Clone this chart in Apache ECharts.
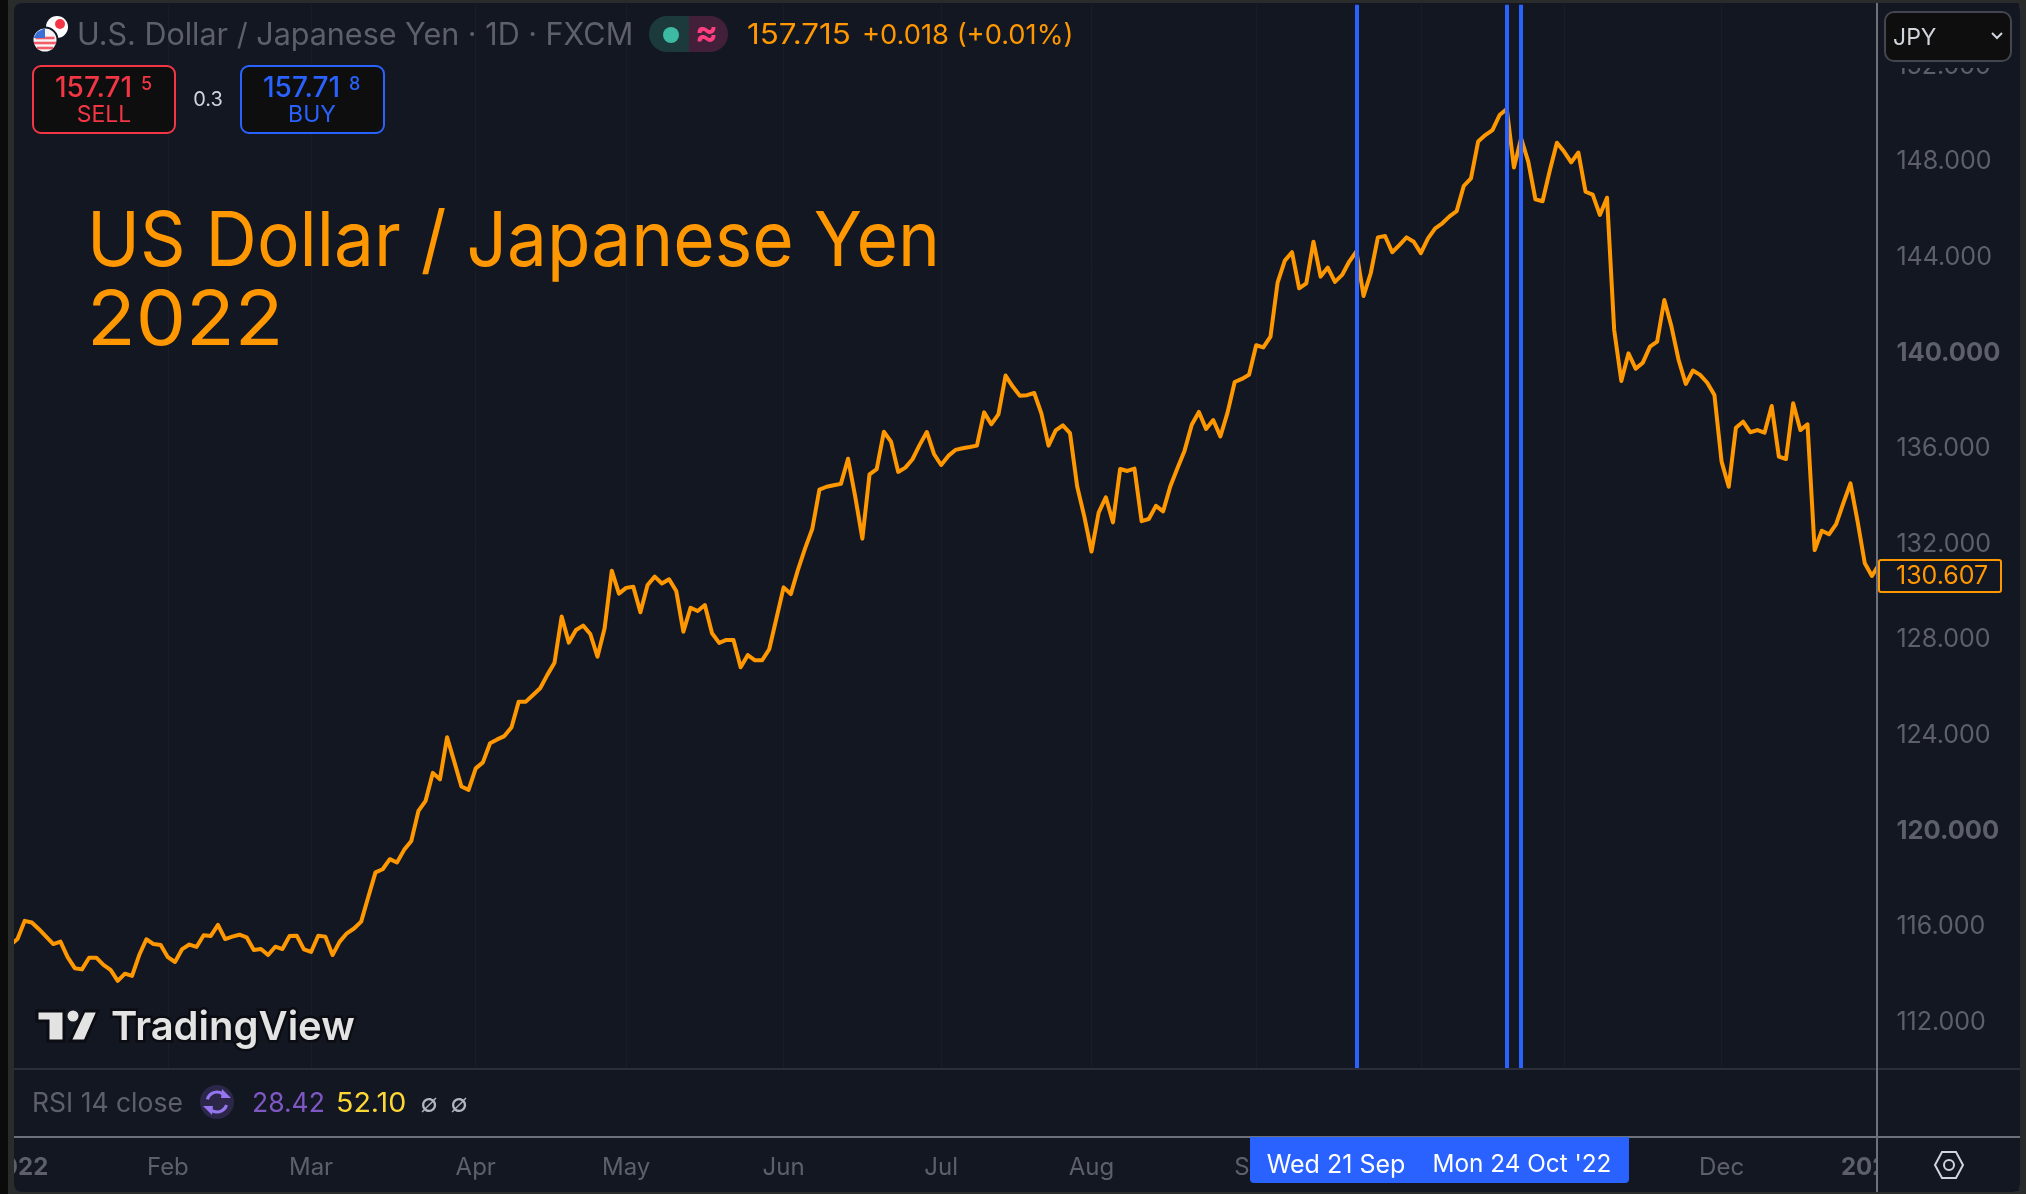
<!DOCTYPE html>
<html>
<head>
<meta charset="utf-8">
<style>html,body{margin:0;padding:0;background:#2a2b2b}#c{width:2026px;height:1194px}</style>
<script src="https://cdn.jsdelivr.net/npm/echarts@6/dist/echarts.min.js"></script>
</head>
<body>
<div id="c"></div>
<script>
// Daily closes, weekday bars; first entry is the bar before 3 Jan 2022, last is the bar after 30 Dec 2022.
const closes = [
115.17,115.42,116.18,116.11,115.83,115.52,115.21,115.31,114.66,114.20,114.15,114.64,114.64,114.34,114.13,113.67,113.97,113.88,114.75,115.41,
115.21,115.17,114.66,114.46,115.00,115.19,115.09,115.58,115.55,116.01,115.42,115.52,115.60,115.49,114.96,115.00,114.75,115.10,115.00,115.55,
115.56,114.99,114.88,115.56,115.52,114.75,115.31,115.66,115.86,116.15,117.19,118.21,118.34,118.76,118.62,119.15,119.52,120.78,121.20,122.37,
122.10,123.86,122.84,121.80,121.66,122.56,122.81,123.61,123.77,123.91,124.28,125.35,125.35,125.63,125.91,126.47,126.98,128.91,127.82,128.35,
128.53,128.18,127.23,128.42,130.83,129.87,130.11,130.16,129.09,130.23,130.58,130.29,130.47,129.98,128.28,129.28,129.14,129.39,128.21,127.81,
127.93,127.93,126.79,127.30,127.08,127.08,127.55,128.84,130.13,129.85,130.86,131.76,132.57,134.22,134.34,134.40,134.46,135.51,133.93,132.17,
134.86,135.08,136.64,136.23,134.96,135.14,135.49,136.09,136.63,135.71,135.25,135.63,135.88,135.95,136.00,136.06,137.45,136.95,137.37,138.99,
138.53,138.15,138.17,138.26,137.41,136.06,136.70,136.91,136.58,134.35,133.09,131.63,133.26,133.90,132.85,135.08,135.00,135.10,132.90,132.99,
133.54,133.31,134.35,135.11,135.85,136.93,137.47,136.76,137.13,136.44,137.44,138.72,138.85,139.02,140.26,140.17,140.62,142.89,143.80,144.15,
142.64,142.85,144.59,143.13,143.51,142.91,143.20,143.76,144.18,142.32,143.27,144.77,144.83,144.15,144.45,144.77,144.59,144.11,144.73,145.15,
145.36,145.65,145.87,146.93,147.24,148.78,149.05,149.26,149.89,150.14,147.69,148.91,147.94,146.36,146.28,147.56,148.73,148.36,147.91,148.32,
146.68,146.56,145.71,146.43,140.90,138.76,139.92,139.28,139.53,140.20,140.41,142.15,141.04,139.64,138.64,139.20,139.02,138.69,138.18,135.39,
134.34,136.81,137.06,136.62,136.71,136.60,137.72,135.60,135.50,137.83,136.71,136.95,131.69,132.50,132.35,132.78,133.65,134.48,132.88,131.14,
130.607,131.1
];
const firstBar = -1;
const lastBar = 260;
const lastClose = 130.607;
const priceTicks = [112,116,120,124,128,132,136,140,144,148,152];
const boldPrices = [120,140];
const gridBars = [21,41,64,85,107,129,150,173,196,216,238];
const timeBars = [0,21,41,64,85,107,129,150,173,238,259];
const timeLabels = ['2022','Feb','Mar','Apr','May','Jun','Jul','Aug','Sep','Dec','2023'];
const boldTimes = ['2022','2023'];
const eventBars = [187,208,210];

const ORANGE='#ff9800', BLUE='#2962ff', RED='#f23645', DIM='#5d606b', BG='#131722';
const FONT='Inter';
const seriesData = closes.map((v,i)=>[i+firstBar,v]);

function txt(id,x,y,text,size,color,extra,sx){
  return {id,type:'text',x,y,z:120,silent:true,scaleX:sx||1,style:Object.assign({
    text,fill:color,font:`${size}px ${FONT}`,textVerticalAlign:'middle',textAlign:'left'
  },extra||{})};
}
function rect(id,x,y,w,h,fill,extra,z){
  return {id,type:'rect',z:z===undefined?110:z,silent:true,shape:{x,y,width:w,height:h,r:(extra&&extra.r)||0},
    style:{fill,stroke:extra&&extra.stroke,lineWidth:extra&&extra.lw}};
}
function hline(id,x1,x2,y,color,w){return {id,type:'line',z:112,silent:true,shape:{x1,y1:y,x2,y2:y},style:{stroke:color,lineWidth:w}};}
function hline2(id,x1,x2,y,color,w){return {id,type:'line',z:116,silent:true,shape:{x1,y1:y,x2,y2:y},style:{stroke:color,lineWidth:w}};}
function vline(id,x,y1,y2,color,w){return {id,type:'line',z:113,silent:true,shape:{x1:x,y1,x2:x,y2},style:{stroke:color,lineWidth:w}};}
function circ(id,cx,cy,r,fill,extra){return {id,type:'circle',z:115,silent:true,shape:{cx,cy,r},style:Object.assign({fill},extra||{})};}
function poly(id,points,fill,extra){return {id,type:'polygon',z:116,silent:true,shape:{points},style:Object.assign({fill},extra||{})};}

const graphics = [
  // frame
  rect('panel',14,3,2006,1189,BG,{r:8},-10),
  rect('frameL',0,0,8,1194,'#0b0b0b',null,111),
  rect('frameL2',8,0,6,1194,'#2a2b2b',null,111),
  rect('rightCover',1878,3,3,1135,BG,null,108),
  rect('topRightCover',1878,3,141,65,BG,null,110),
  rect('timeCoverR',1878,1138,141,53,BG,null,111),
  hline('sep1',14,2020,1069,'#2a2e39',2),
  hline('sep2',14,2020,1137,'#6f717a',2),
  vline('priceEdge',1877,3,1192,'#6f717a',2),
  // currency flags
  circ('jpW',57,27,11,'#ffffff'),
  circ('jpR',60,24,5,RED),
  circ('usW',45,40,12.5,'#f5f5f5',{stroke:BG,lineWidth:2}),
  hline2('usS1',35.5,54.5,38,'#f45b69',2.6),
  hline2('usS2',34,56,43,'#f45b69',2.6),
  hline2('usS3',37,53,48,'#f45b69',2.6),
  poly('usB',[[37,32],[45,28],[45,38],[33.5,38]],'#3b6fd8'),
  // header
  txt('head',77,36,'U.S. Dollar / Japanese Yen · 1D · FXCM',30.5,DIM),
  rect('pillL',649,16,40,36,'#1c3a3c',{r:[18,0,0,18]},114),
  rect('pillR',689,16,39,36,'#43203a',{r:[0,18,18,0]},114),
  circ('pillDot',671,35,8,'#3dbaa2'),
  txt('pillSym',695,34,'≈',34,'#ff3e7f',{font:`bold 34px ${FONT}`}),
  txt('quote',747,36,'157.715',28,ORANGE,null,1.12),
  txt('quote2',862,36,'+0.018 (+0.01%)',27.3,ORANGE),
  // sell and buy
  rect('sell',33,66,142,67,'#0e0e0e',{r:8,stroke:RED,lw:2},114),
  txt('sellP',55,89,'157.71',28,RED,{font:`500 28px ${FONT}`}),
  txt('sellS',141,85,'5',18,RED,{font:`500 18px ${FONT}`}),
  txt('sellT',104,115,'SELL',23,RED,{textAlign:'center'}),
  txt('spread',208,100,'0.3',20,'#d1d4dc',{textAlign:'center'}),
  rect('buy',241,66,143,67,'#0e0e0e',{r:8,stroke:BLUE,lw:2},114),
  txt('buyP',263,89,'157.71',28,BLUE,{font:`500 28px ${FONT}`}),
  txt('buyS',349,85,'8',18,BLUE,{font:`500 18px ${FONT}`}),
  txt('buyT',312,115,'BUY',23,BLUE,{textAlign:'center'}),
  // title
  txt('title1',87,243,'US Dollar / Japanese Yen',76,ORANGE,null,0.936),
  txt('title2',87,322,'2022',76,ORANGE,null,1.05),
  // currency selector
  rect('jpy',1885,12,126,49,'#0e0e0e',{r:9,stroke:'#434651',lw:2},114),
  txt('jpyT',1893,38,'JPY',23,'#d1d4dc'),
  {id:'jpyV',type:'polyline',z:116,silent:true,shape:{points:[[1992,33],[1997,38],[2002,33]]},style:{stroke:'#d1d4dc',lineWidth:2,fill:null}},
  // RSI row
  txt('rsiName',32,1104,'RSI 14 close',26.5,DIM),
  circ('rsiC',217,1102,17,'#2c2748'),
  {id:'rsiA1',type:'arc',z:116,silent:true,shape:{cx:217,cy:1102,r:10,startAngle:3.4,endAngle:5.8},style:{stroke:'#9575f0',lineWidth:3,fill:null}},
  {id:'rsiA2',type:'arc',z:116,silent:true,shape:{cx:217,cy:1102,r:10,startAngle:0.3,endAngle:2.7},style:{stroke:'#9575f0',lineWidth:3,fill:null}},
  poly('rsiH1',[[222,1089],[231,1098],[221,1098]],'#9575f0'),
  poly('rsiH2',[[212,1115],[203,1106],[213,1106]],'#9575f0'),
  txt('rsiA',252,1104,'28.42',26.5,'#7e57c2'),
  txt('rsiB',336,1104,'52.10',26.5,'#fdd835',null,1.08),
  txt('rsiN1',429,1104,'∅',25,'#b2b5be',{textAlign:'center'}),
  txt('rsiN2',459,1104,'∅',25,'#b2b5be',{textAlign:'center'}),
  // date range highlight
  rect('range',1250,1137,379,46,BLUE,{r:[0,0,4,4]},114),
  txt('rangeA',1336,1165,'Wed 21 Sep',25,'#ffffff',{textAlign:'center'}),
  txt('rangeB',1522,1165,"Mon 24 Oct '22",24.3,'#ffffff',{textAlign:'center'}),
  // settings icon
  poly('hex',[[1935,1165],[1942,1152],[1956,1152],[1963,1165],[1956,1178],[1942,1178]],'none',{stroke:'#d1d4dc',lineWidth:2}),
  circ('hexC',1949,1165,5,'none',{stroke:'#d1d4dc',lineWidth:2}),
  // TradingView mark
  poly('tvT',[[37,1011],[64,1011],[64,1041],[48,1041],[48,1021],[37,1021]],'#e3e3e3',{stroke:'#0b0d12',lineWidth:3}),
  circ('tvO',73,1016,5.5,'#e3e3e3'),
  poly('tvS',[[84,1011],[98,1011],[85,1041],[70,1041]],'#e3e3e3',{stroke:'#0b0d12',lineWidth:3}),
  txt('tvName',111,1028,'TradingView',40,'#e3e3e3',{font:`600 40px ${FONT}`,stroke:'#0b0d12',lineWidth:5})
];

const chart = echarts.init(document.getElementById('c'),null,{renderer:'canvas',width:2026,height:1194});
chart.setOption({
  animation:false,
  backgroundColor:'transparent',
  grid:{left:10.34,right:146.9,top:4.8,bottom:125.4,containLabel:false,outerBoundsMode:'none'},
  xAxis:{
    type:'value',min:firstBar,max:lastBar,
    axisLine:{show:false},
    axisTick:{show:false,customValues:gridBars},
    splitLine:{show:true,lineStyle:{color:'#191d28',width:1}},
    axisLabel:{
      show:true,customValues:timeBars,margin:87,hideOverlap:false,color:DIM,fontFamily:FONT,fontSize:24,
      formatter:v=>{const t=timeLabels[timeBars.indexOf(v)];return boldTimes.includes(t)?`{b|${t}}`:t;},
      rich:{b:{fontFamily:FONT,fontSize:24,fontWeight:'bold',color:DIM}}
    }
  },
  yAxis:{
    type:'value',position:'right',min:110,max:154.5,
    axisLine:{show:false},
    axisTick:{show:false,customValues:priceTicks},
    splitLine:{show:false},
    axisLabel:{
      show:true,customValues:priceTicks,margin:17.3,padding:[3,0,0,0],color:DIM,fontFamily:FONT,fontSize:25,
      formatter:v=>boldPrices.includes(v)?`{b|${v.toFixed(3)}}`:v.toFixed(3),
      rich:{b:{fontFamily:FONT,fontSize:25.5,fontWeight:'bold',color:DIM}}
    }
  },
  graphic:{elements:graphics},
  series:[{
    type:'line',data:seriesData,showSymbol:false,smooth:false,clip:true,
    lineStyle:{color:ORANGE,width:4,join:'round'},itemStyle:{color:ORANGE},
    markLine:{silent:true,symbol:'none',animation:false,label:{show:false},
      lineStyle:{color:BLUE,width:4,type:'solid'},
      data:eventBars.map(b=>({xAxis:b}))}
  }]
});
const py = chart.convertToPixel({yAxisIndex:0},lastClose);
chart.setOption({graphic:{elements:[
  rect('priceBox',1879,py-16,122,32,BG,{r:2,stroke:ORANGE,lw:2},118),
  txt('priceTxt',1896,py+1,lastClose.toFixed(3),25,ORANGE)
]}});
</script>
</body>
</html>
